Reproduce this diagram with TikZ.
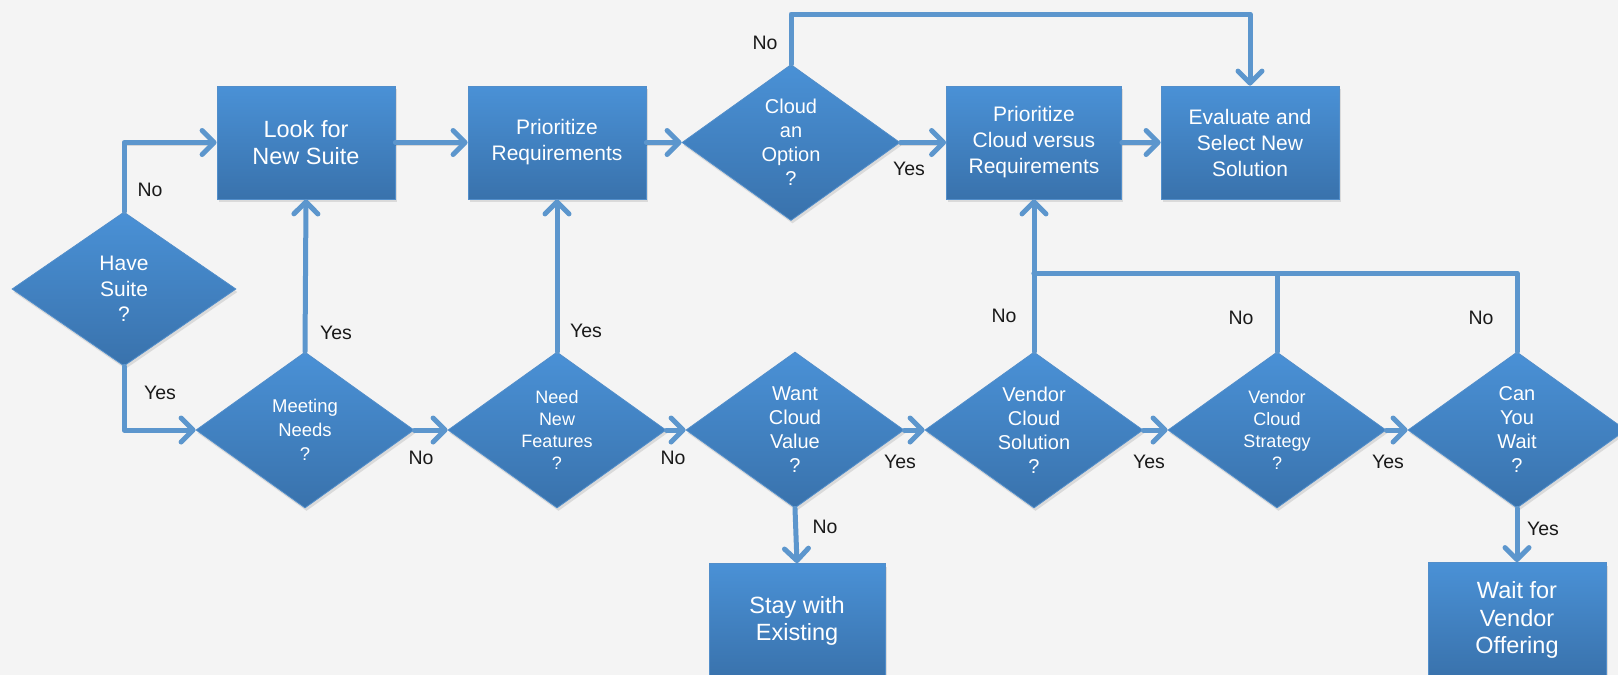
\documentclass[tikz,border=0pt]{standalone}
\usepackage{fontspec}
\setmainfont{Liberation Sans}
\usetikzlibrary{shapes.geometric,arrows.meta,shadows}
\definecolor{bgc}{RGB}{244,244,244}
\definecolor{boxtop}{RGB}{74,145,214}
\definecolor{boxbot}{RGB}{57,114,172}
\definecolor{boxedge}{RGB}{82,142,202}
\definecolor{conncol}{RGB}{92,150,205}
\definecolor{lblcol}{RGB}{25,25,25}
\tikzset{
  shbase/.style={top color=boxtop, bottom color=boxbot, draw=boxedge, line width=0.8pt, text=white,
    drop shadow={shadow xshift=1.5pt, shadow yshift=-3pt, opacity=0.22}},
  procbox/.style={shbase, rectangle, minimum width=178pt, minimum height=113pt, inner sep=0pt, align=center},
  decision/.style={shbase, diamond, minimum width=218pt, minimum height=156pt, inner sep=0pt},
  dtext/.style={text=white, align=center, inner sep=0pt},
  connbase/.style={draw=conncol, line width=5pt, line join=round, line cap=round,
    preaction={draw=black, opacity=0.12, transform canvas={yshift=-2.5pt}}},
  conn/.style={connbase, -{Straight Barb[length=12pt,width=24pt,round]}},
  lbl/.style={text=lblcol, font=\fontsize{19.5}{23}\selectfont, inner sep=0pt},
  fbig/.style={font=\fontsize{23.5}{27.5}\selectfont},
  fmid/.style={font=\fontsize{21}{26}\selectfont},
  fd/.style={font=\fontsize{20}{24}\selectfont},
  fds/.style={font=\fontsize{18}{22}\selectfont},
}
\begin{document}
\begin{tikzpicture}[x=1pt,y=-1pt]
\clip (0,0) rectangle (1618,675);
\fill[bgc] (0,0) rectangle (1618,675);

% top row
\node[procbox, fbig] (look) at (306,142.5) {Look for\\New Suite};
\node[procbox, fmid] (pr) at (557,142.5) {Prioritize\\Requirements};
\node[decision, label={[dtext,fd]center:Cloud\\an\\Option\\?}] (cloud) at (791,142.5) {};
\node[procbox, fmid, minimum width=175pt] (pc) at (1034,142.5) {Prioritize\\Cloud versus\\Requirements};
\node[procbox, fmid] (eval) at (1250,142.5) {Evaluate and\\Select New\\Solution};

% left decision
\node[decision, minimum width=224pt, minimum height=154pt, label={[dtext,font=\fontsize{21}{25.5}\selectfont]center:Have\\Suite\\?}] (hs) at (124,289) {};

% bottom row
\node[decision, label={[dtext,font=\fontsize{18.5}{24}\selectfont]center:Meeting\\Needs\\?}] (mn) at (305,430) {};
\node[decision, label={[dtext,fds]center:Need\\New\\Features\\?}] (nnf) at (557,430) {};
\node[decision, label={[dtext,fd]center:Want\\Cloud\\Value\\?}] (wcv) at (795,430) {};
\node[decision, label={[dtext,fd]center:Vendor\\Cloud\\Solution\\?}] (vcs) at (1034,430) {};
\node[decision, label={[dtext,fds]center:Vendor\\Cloud\\Strategy\\?}] (vcst) at (1277,430) {};
\node[decision, label={[dtext,fd]center:Can\\You\\Wait\\?}] (cyw) at (1517,430) {};

% bottom boxes
\node[procbox, fbig, minimum width=176pt, minimum height=115pt] (stay) at (797,621) {Stay with\\Existing};
\node[procbox, fbig, minimum height=115pt] (wait) at (1517,620) {Wait for\\Vendor\\Offering};

% helper coordinates
\coordinate (looptop) at (1020,14);
\coordinate (br) at (1034,273);

% connectors
\draw[conn] (hs.north) |- (look.west);
\draw[conn] (hs.south) |- (mn.west);
\draw[conn] (mn.north) -- (look.south);
\draw[conn] (look.east) -- (pr.west);
\draw[conn] (pr.east) -- (cloud.west);
\draw[conn] (cloud.east) -- (pc.west);
\draw[conn] (pc.east) -- (eval.west);
\draw[conn] (cloud.north) |- (looptop) -| (eval.north);
\draw[conn] (mn.east) -- (nnf.west);
\draw[conn] (nnf.north) -- (pr.south);
\draw[conn] (nnf.east) -- (wcv.west);
\draw[conn] (wcv.south) -- (stay.north);
\draw[conn] (wcv.east) -- (vcs.west);
\draw[conn] (vcs.east) -- (vcst.west);
\draw[conn] (vcst.east) -- (cyw.west);
\draw[conn] (cyw.south) -- (wait.north);
\draw[connbase] (vcst.north) |- (br);
\draw[connbase] (cyw.north) |- (br);
\draw[conn] (vcs.north) -- (pc.south);

% labels
\node[lbl] (l1) at (150,190) {No};
\node[lbl] (l2) at (160,393) {Yes};
\node[lbl] (l3) at (336,333) {Yes};
\node[lbl] (l4) at (421,458) {No};
\node[lbl] (l5) at (586,331) {Yes};
\node[lbl] (l6) at (673,458) {No};
\node[lbl] (l7) at (825,527) {No};
\node[lbl] (l8) at (900,462) {Yes};
\node[lbl] (l9) at (1149,462) {Yes};
\node[lbl] (l10) at (1388,462) {Yes};
\node[lbl] (l11) at (1543,529) {Yes};
\node[lbl] (l12) at (1004,316) {No};
\node[lbl] (l13) at (1241,318) {No};
\node[lbl] (l14) at (1481,318) {No};
\node[lbl] (l15) at (765,43) {No};
\node[lbl] (l16) at (909,169) {Yes};
\end{tikzpicture}
\end{document}
